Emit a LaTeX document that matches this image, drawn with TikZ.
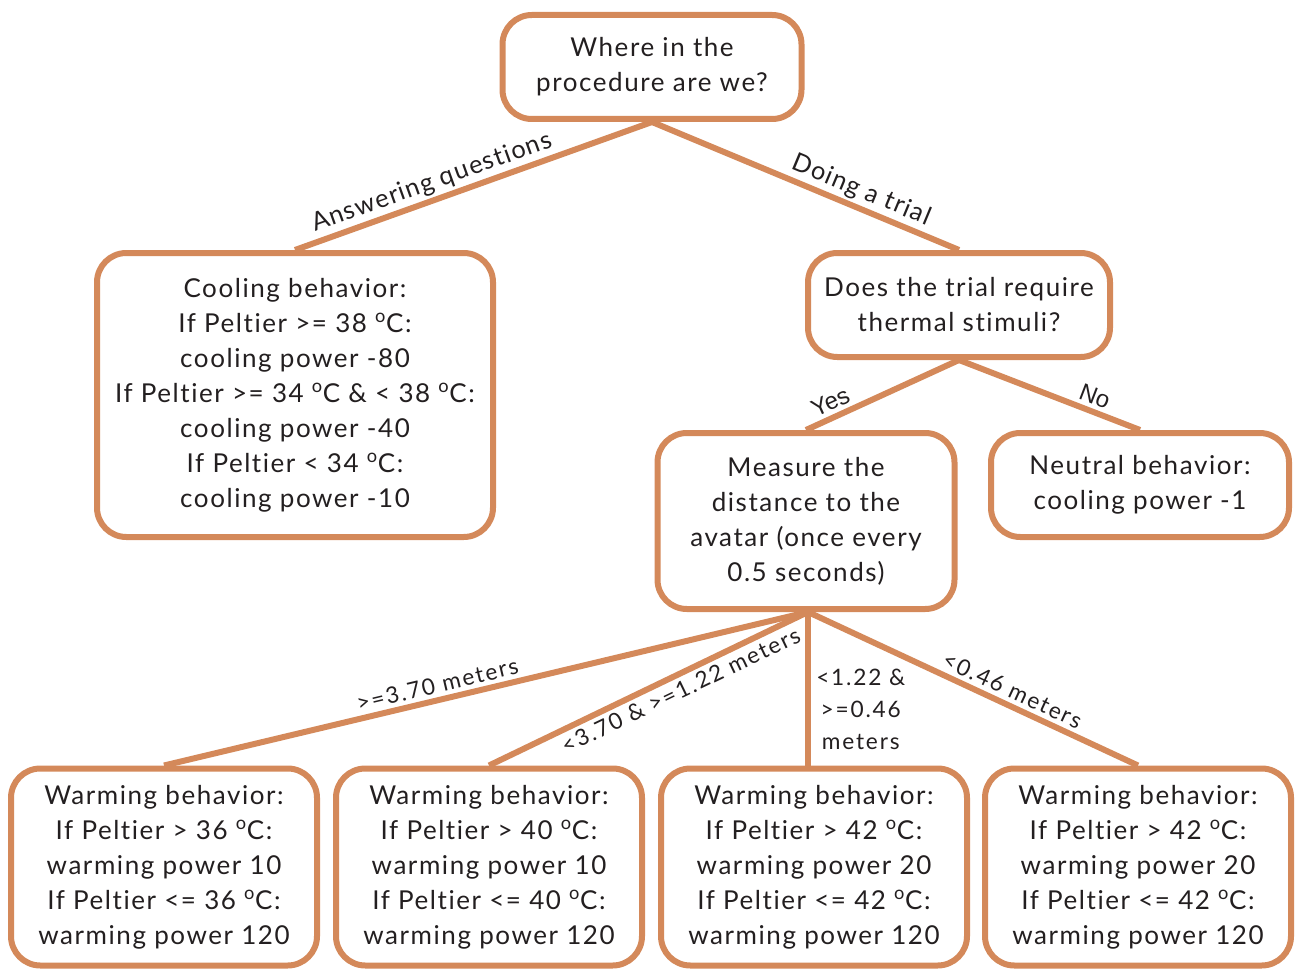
\documentclass[tikz,border=0pt]{standalone}
\usepackage{fontspec}
\setmainfont{Lato}[LetterSpace=6,Ligatures={NoCommon}]
\newfontfamily\edgefont{Lato}[LetterSpace=5,Ligatures={NoCommon}]
\newfontfamily\distfont{Lato}[LetterSpace=8,Ligatures={NoCommon}]
\newfontfamily\lblfont{Liberation Sans}
\definecolor{edgec}{HTML}{D4895A}
\definecolor{txtc}{HTML}{231F20}
\newcommand{\dg}{\textsuperscript{o}}
\tikzset{
  box/.style={draw=edgec, line width=4.5pt, rounded corners=22pt, fill=white, align=center,
    text=txtc, font=\fontsize{19.5}{26.25}\selectfont, inner sep=0pt},
  conn/.style={draw=edgec, line width=4.5pt},
  elab/.style={text=txtc, font=\edgefont\fontsize{19}{22}\selectfont, sloped, inner sep=2pt},
  ylab/.style={text=txtc, font=\lblfont\fontsize{18}{20}\selectfont, sloped, inner sep=3pt},
  dlab/.style={text=txtc, font=\distfont\fontsize{17}{24}\selectfont, inner sep=3pt}
}
\begin{document}
\begin{tikzpicture}[x=0.75pt,y=-0.75pt]
\useasboundingbox (0,0) rectangle (1296,970);
\node[box, minimum width=224.25pt, minimum height=78pt] (top) at (652,67) {Where in the\\procedure are we?};
\node[box, minimum width=297pt, minimum height=213pt] (cool) at (295,395) {Cooling behavior:\\If Peltier >= 38 \dg C:\\cooling power -80\\If Peltier >= 34 \dg C \& < 38 \dg C:\\cooling power -40\\If Peltier < 34 \dg C:\\cooling power -10};
\node[box, minimum width=226.5pt, minimum height=78pt] (does) at (959,305) {Does the trial require\\thermal stimuli?};
\node[box, minimum width=222.75pt, minimum height=132pt] (meas) at (806,521) {Measure the\\distance to the\\avatar (once every\\0.5 seconds)};
\node[box, minimum width=223.5pt, minimum height=78pt] (neut) at (1140,485) {Neutral behavior:\\cooling power -1};
\node[box, minimum width=229.5pt, minimum height=147.75pt] (w1) at (164,867) {Warming behavior:\\If Peltier > 36 \dg C:\\warming power 10\\If Peltier <= 36 \dg C:\\warming power 120};
\node[box, minimum width=229.5pt, minimum height=147.75pt] (w2) at (489,867) {Warming behavior:\\If Peltier > 40 \dg C:\\warming power 10\\If Peltier <= 40 \dg C:\\warming power 120};
\node[box, minimum width=229.5pt, minimum height=147.75pt] (w3) at (814,867) {Warming behavior:\\If Peltier > 42 \dg C:\\warming power 20\\If Peltier <= 42 \dg C:\\warming power 120};
\node[box, minimum width=229.5pt, minimum height=147.75pt] (w4) at (1138,867) {Warming behavior:\\If Peltier > 42 \dg C:\\warming power 20\\If Peltier <= 42 \dg C:\\warming power 120};
\draw[conn] (top.south) -- node[elab, above, pos=0.6] {Answering questions} (cool.north);
\draw[conn] (top.south) -- node[elab, above, pos=0.66] {Doing a trial} (does.north);
\draw[conn] (does.south) -- node[ylab, above, pos=0.8] {Yes} (meas.north);
\draw[conn] (does.south) -- node[ylab, above, pos=0.72] {No} (neut.north);
\coordinate (ms) at (808,612);
\draw[conn] (ms) -- node[dlab, sloped, above, pos=0.57] {>=3.70 meters} (w1.north);
\draw[conn] (ms) -- node[dlab, sloped, below, pos=0.42] {<3.70 \& >=1.22 meters} (w2.north);
\draw[conn] (ms) -- (w3.north -| ms);
\node[dlab, align=center, anchor=west] (d3) at (812,709) {<1.22 \&\\>=0.46\\meters};
\draw[conn] (ms) -- node[dlab, sloped, above, pos=0.6] {<0.46 meters} (w4.north);
\end{tikzpicture}
\end{document}
